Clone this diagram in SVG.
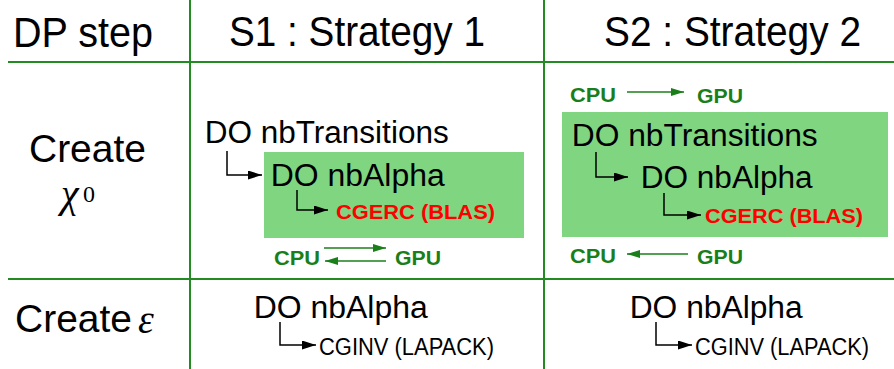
<svg xmlns="http://www.w3.org/2000/svg" width="894" height="369" viewBox="0 0 894 369">
<defs>
<style>
.t{font-family:"Liberation Sans",Arial,sans-serif;fill:#000}
.h{font-size:42px}
.do{font-size:31px}
.red{font-family:"Liberation Sans",Arial,sans-serif;font-weight:bold;font-size:20px;fill:#f00}
.gr{font-family:"Liberation Sans",Arial,sans-serif;font-weight:bold;font-size:21px;fill:#1a7f1a}
.m{font-family:"Liberation Serif","Times New Roman",serif;font-style:italic;fill:#000}
.grid{stroke:#228b22;stroke-width:2;fill:none}
.box{fill:#80d580}
.ab{stroke:#000;stroke-width:1.5;fill:none;marker-end:url(#hb)}
.ag{stroke:#1a7f1a;stroke-width:1.5;fill:none;marker-end:url(#hg)}
</style>
<marker id="hb" viewBox="0 0 14 9" refX="14" refY="4.5" markerWidth="14" markerHeight="9" markerUnits="userSpaceOnUse" orient="auto"><path d="M0,0 L14,4.5 L0,9 z" fill="#000"/></marker>
<marker id="hg" viewBox="0 0 13 8" refX="13" refY="4" markerWidth="13" markerHeight="8" markerUnits="userSpaceOnUse" orient="auto"><path d="M0,0 L13,4 L0,8 z" fill="#1a7f1a"/></marker>
</defs>
<rect width="894" height="369" fill="#fff"/>
<g id="grid">
<path class="grid" d="M190,0 V369 M544,0 V369 M8,62 H894 M8,279 H894"/>
</g>
<g id="header">
<text class="t h" x="13" y="47" textLength="140" lengthAdjust="spacingAndGlyphs">DP step</text>
<text class="t h" x="229" y="46" textLength="256" lengthAdjust="spacingAndGlyphs">S1 : Strategy 1</text>
<text class="t h" x="604" y="46" textLength="257" lengthAdjust="spacingAndGlyphs">S2 : Strategy 2</text>
</g>
<g id="row-labels">
<text class="t" x="87.5" y="162" font-size="39" text-anchor="middle">Create</text>
<text class="m" x="61" y="207" font-size="40">χ</text>
<text x="83" y="202" font-size="24" font-family="Liberation Serif,serif">0</text>
<text class="t" x="15" y="332" font-size="39" textLength="117" lengthAdjust="spacingAndGlyphs">Create</text>
<text class="m" x="138" y="333" font-size="40">ε</text>
</g>
<g id="s1-chi">
<rect class="box" x="264" y="152" width="260" height="86"/>
<text class="t do" x="204.7" y="143" textLength="244" lengthAdjust="spacingAndGlyphs">DO nbTransitions</text>
<text class="t do" x="270.7" y="186" textLength="174" lengthAdjust="spacingAndGlyphs">DO nbAlpha</text>
<text class="red" x="336" y="219" textLength="159" lengthAdjust="spacingAndGlyphs">CGERC (BLAS)</text>
<text class="gr" x="274" y="265" textLength="46" lengthAdjust="spacingAndGlyphs">CPU</text>
<text class="gr" x="395" y="265" textLength="46" lengthAdjust="spacingAndGlyphs">GPU</text>
</g>
<g id="s2-chi">
<rect class="box" x="562" y="112" width="326" height="125"/>
<text class="t do" x="571.7" y="146" textLength="246" lengthAdjust="spacingAndGlyphs">DO nbTransitions</text>
<text class="t do" x="640.7" y="188" textLength="172" lengthAdjust="spacingAndGlyphs">DO nbAlpha</text>
<text class="red" x="705" y="223" textLength="158" lengthAdjust="spacingAndGlyphs">CGERC (BLAS)</text>
<text class="gr" x="570" y="102" textLength="46" lengthAdjust="spacingAndGlyphs">CPU</text>
<text class="gr" x="697" y="103" textLength="46" lengthAdjust="spacingAndGlyphs">GPU</text>
<text class="gr" x="570" y="263" textLength="46" lengthAdjust="spacingAndGlyphs">CPU</text>
<text class="gr" x="697" y="264" textLength="46" lengthAdjust="spacingAndGlyphs">GPU</text>
</g>
<g id="s1-eps">
<text class="t do" x="253.7" y="318" textLength="174" lengthAdjust="spacingAndGlyphs">DO nbAlpha</text>
<text class="t" x="319" y="355" font-size="23" textLength="175" lengthAdjust="spacingAndGlyphs">CGINV (LAPACK)</text>
</g>
<g id="s2-eps">
<text class="t do" x="629.7" y="318" textLength="173" lengthAdjust="spacingAndGlyphs">DO nbAlpha</text>
<text class="t" x="695" y="355" font-size="23" textLength="174" lengthAdjust="spacingAndGlyphs">CGINV (LAPACK)</text>
</g>
<g id="connectors">
<path class="ab" d="M227,151 V175 H262"/>
<path class="ab" d="M297,190 V210 H328"/>
<path class="ab" d="M596,152 V177 H628"/>
<path class="ab" d="M664,193 V215 H701"/>
<path class="ab" d="M280,322 V345 H316"/>
<path class="ab" d="M656,322 V345 H692"/>
<path class="ag" d="M324,248 H386"/>
<path class="ag" d="M386,261 H325"/>
<path class="ag" d="M627,92 H684"/>
<path class="ag" d="M688,254 H627"/>
</g>
</svg>
